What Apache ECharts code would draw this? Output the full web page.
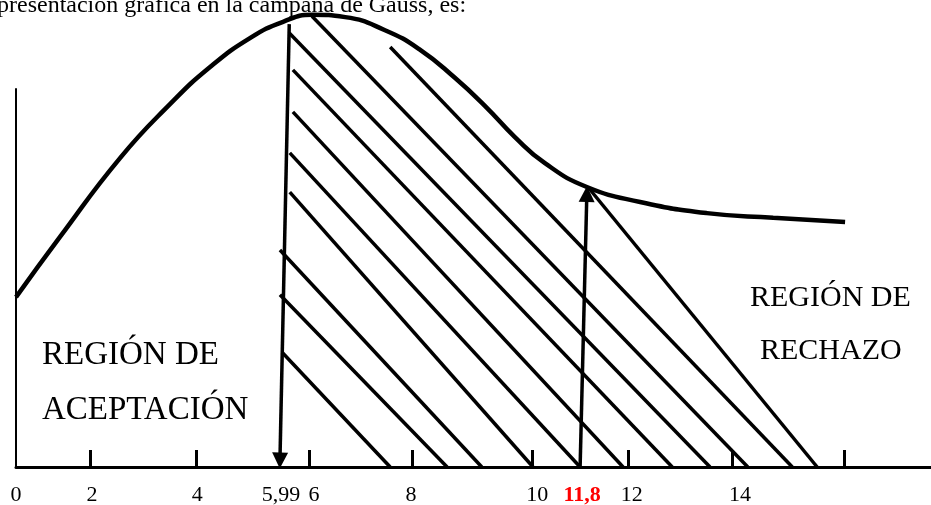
<!DOCTYPE html>
<html>
<head>
<meta charset="utf-8">
<script src="https://cdn.jsdelivr.net/npm/echarts@6/dist/echarts.min.js"></script>
<style>
	html, body { margin: 0; padding: 0; background: #fff; }
	#chart { width: 931px; height: 505px; }
</style>
</head>
<body>
<div id="chart"></div>
<script>
// curva de la campana
var curveX = [0, 0.85, 2.01, 2.98, 3.75, 4.52, 5.16, 5.72, 6.36, 7.13, 7.81, 8.48, 9.06, 9.64, 10.22, 11.03, 12.06, 13.35, 14.63, 16.02];
var curveY = [3.64, 4.93, 6.62, 7.78, 8.57, 9.19, 9.54, 9.69, 9.64, 9.36, 8.94, 8.34, 7.74, 7.07, 6.51, 6.00, 5.68, 5.44, 5.34, 5.25];

// rayado de la región de rechazo: punto de arriba -> punto sobre el eje
var hatchTopX = [5.14, 5.10, 5.10, 5.29, 5.29, 5.35, 5.35, 5.28, 5.72, 7.23, 11.05];
var hatchTopY = [2.46, 3.69, 4.65, 5.89, 6.73, 7.61, 8.51, 9.30, 9.66, 9.00, 6.00];
var hatchEndX = [7.23, 8.33, 9.00, 9.99, 10.90, 11.73, 12.68, 13.41, 14.14, 15.00, 15.48];

// flechas: 5,99 (baja) y 11,8 (sube); el final es el centro de la punta
var arrowFromX = [5.28, 10.90];
var arrowFromY = [9.49, 0];
var arrowToX = [5.10, 11.03];
var arrowToY = [0.14, 5.85];

// eje x
var tickPos = [1.43, 3.48, 5.66, 7.65, 9.97, 11.83, 13.84, 16.0];
var labelPos = [0, 1.47, 3.50, 5.12, 5.76, 7.63, 10.07, 10.94, 11.90, 13.99];
var labelText = ['0', '2', '4', '5,99', '6', '8', '10', '11,8', '12', '14'];
var criticalLabel = '11,8';

var myChart = echarts.init(document.getElementById('chart'));

var curveData = curveX.map(function (x, i) { return [x, curveY[i]]; });
var hatchData = hatchTopX.map(function (x, i) {
	return { coords: [[x, hatchTopY[i]], [hatchEndX[i], 0]] };
});
var arrowData = arrowFromX.map(function (x, i) {
	return { coords: [[x, arrowFromY[i]], [arrowToX[i], arrowToY[i]]] };
});

function labelFor(v) {
	var best = 0;
	labelPos.forEach(function (p, i) {
		if (Math.abs(p - v) < Math.abs(labelPos[best] - v)) best = i;
	});
	return labelText[best];
}

var serif = '"Liberation Serif", "DejaVu Serif", serif';

myChart.setOption({
	backgroundColor: '#fff',
	animation: false,
	grid: { left: 16, right: 0, top: 89, bottom: 38, containLabel: false, outerBoundsMode: 'none' },
	xAxis: {
		type: 'value',
		min: 0,
		max: 17.68,
		axisLine: { lineStyle: { color: '#000', width: 3 } },
		splitLine: { show: false },
		axisTick: {
			show: true,
			inside: true,
			length: 17,
			customValues: tickPos,
			lineStyle: { color: '#000', width: 3 }
		},
		axisLabel: {
			customValues: labelPos,
			margin: 17,
			color: '#000',
			fontFamily: serif,
			fontSize: 22,
			formatter: function (v) {
				var t = labelFor(v);
				return t === criticalLabel ? '{red|' + t + '}' : t;
			},
			rich: {
				red: { color: '#ff0000', fontWeight: 'bold', fontFamily: serif, fontSize: 22 }
			}
		}
	},
	yAxis: {
		type: 'value',
		min: 0,
		max: 8.1,
		axisLine: { show: true, lineStyle: { color: '#000', width: 2 } },
		axisTick: { show: false },
		axisLabel: { show: false },
		splitLine: { show: false }
	},
	graphic: [
		{ type: 'text', left: -3, top: -6, style: { text: 'presentación gráfica en la campana de Gauss, es:', font: '24px ' + serif, fill: '#000' } },
		{ type: 'text', left: 42, top: 339, style: { text: 'REGIÓN DE', font: '33px ' + serif, fill: '#000' } },
		{ type: 'text', left: 42, top: 394, style: { text: 'ACEPTACIÓN', font: '33px ' + serif, fill: '#000' } },
		{ type: 'text', left: 750, top: 283, style: { text: 'REGIÓN DE', font: '30px ' + serif, fill: '#000' } },
		{ type: 'text', left: 760, top: 336, style: { text: 'RECHAZO', font: '30px ' + serif, fill: '#000' } }
	],
	series: [
		{
			name: 'campana',
			type: 'line',
			data: curveData,
			smooth: true,
			symbol: 'none',
			clip: false,
			lineStyle: { color: '#000', width: 4.5 }
		},
		{
			name: 'rayado',
			type: 'lines',
			coordinateSystem: 'cartesian2d',
			data: hatchData,
			clip: false,
			symbol: 'none',
			lineStyle: { color: '#000', width: 3.5, opacity: 1 }
		},
		{
			name: 'flechas',
			type: 'lines',
			coordinateSystem: 'cartesian2d',
			data: arrowData,
			clip: false,
			symbol: ['none', 'triangle'],
			symbolSize: 16,
			lineStyle: { color: '#000', width: 3.5, opacity: 1 },
			itemStyle: { color: '#000' }
		}
	]
});
</script>
</body>
</html>
